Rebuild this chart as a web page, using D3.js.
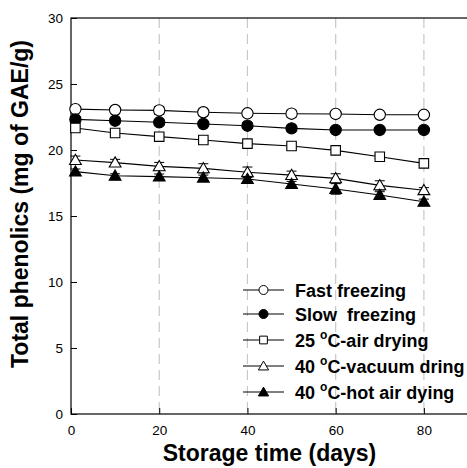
<!DOCTYPE html>
<html><head><meta charset="utf-8">
<script src="https://cdn.jsdelivr.net/npm/d3@7"></script>
<style>body{margin:0;background:#fff}svg{display:block}text{font-family:"Liberation Sans",Arial,sans-serif;white-space:pre}</style>
</head><body>
<svg id="c" width="467" height="468"></svg>
<script>
const days = [1, 10, 20, 30, 40, 50, 60, 70, 80];
const seriesNames = ["Fast freezing", "Slow  freezing", "25 °C-air drying", "40 °C-vacuum dring", "40 °C-hot air dying"];
const fastFreezing = [23.1, 23.03, 23.0, 22.86, 22.78, 22.75, 22.73, 22.67, 22.67];
const slowFreezing = [22.32, 22.22, 22.1, 21.97, 21.84, 21.64, 21.52, 21.52, 21.52];
const airDrying25 = [21.67, 21.29, 21.01, 20.76, 20.48, 20.30, 19.97, 19.49, 18.99];
const vacuumDrying40 = [19.24, 19.04, 18.76, 18.61, 18.31, 18.10, 17.85, 17.32, 16.95];
const hotAirDrying40 = [18.36, 18.05, 17.98, 17.90, 17.80, 17.42, 17.05, 16.59, 16.08];
const errFast = [0.2, 0.25, 0.3, 0.15, 0.15, 0.25, 0.15, 0.15, 0.15];
const errSlow = [0.2, 0.2, 0.2, 0.2, 0.2, 0.2, 0.2, 0.2, 0.2];
const errAir25 = [0.15, 0.15, 0.15, 0.15, 0.15, 0.15, 0.15, 0.15, 0.15];
const errVac40 = [0.3, 0.25, 0.3, 0.35, 0.4, 0.3, 0.35, 0.35, 0.2];
const errHot40 = [0.2, 0.15, 0.2, 0.2, 0.2, 0.2, 0.4, 0.25, 0.2];
const xTicks = [0, 20, 40, 60, 80];
const yTicks = [0, 5, 10, 15, 20, 25, 30];

const data = [fastFreezing, slowFreezing, airDrying25, vacuumDrying40, hotAirDrying40];
const errs = [errFast, errSlow, errAir25, errVac40, errHot40];
const shapes = [d3.symbolCircle, d3.symbolCircle, d3.symbolSquare, d3.symbolTriangle, d3.symbolTriangle];
const fills = ["#fff", "#000", "#fff", "#fff", "#000"];

const svg = d3.select("#c");
const m = {l: 71, t: 18, w: 397, h: 396};
const x = d3.scaleLinear().domain([0, 90]).range([m.l, m.l + m.w]);
const y = d3.scaleLinear().domain([0, 30]).range([m.t + m.h, m.t]);

// grid
svg.append("g").selectAll("line").data(xTicks.filter(d => d > 0)).join("line")
  .attr("x1", d => x(d)).attr("x2", d => x(d)).attr("y1", m.t).attr("y2", m.t + m.h)
  .attr("stroke", "#c8c8c8").attr("stroke-width", 1.2).attr("stroke-dasharray", "10,6");

// frame
svg.append("rect").attr("x", m.l).attr("y", m.t).attr("width", m.w).attr("height", m.h)
  .attr("fill", "none").attr("stroke", "#000").attr("stroke-width", 1.2);

const xAxis = svg.append("g").attr("transform", `translate(0,${m.t + m.h})`)
  .call(d3.axisBottom(x).tickValues(xTicks).tickSizeInner(-6).tickSizeOuter(0).tickPadding(11));
const yAxis = svg.append("g").attr("transform", `translate(${m.l},0)`)
  .call(d3.axisLeft(y).tickValues(yTicks).tickSizeInner(-6).tickSizeOuter(0).tickPadding(8));
[xAxis, yAxis].forEach(a => {
  a.select(".domain").remove();
  a.selectAll("line").attr("stroke", "#000");
  a.selectAll("text").attr("font-size", 13.5).attr("fill", "#000").style("font-family", '"Liberation Sans",Arial,sans-serif');
});

const sym = d3.symbol();
data.forEach((vals, i) => {
  const g = svg.append("g");
  const pts = days.map((d, j) => ({x: d, y: vals[j], e: errs[i][j]}));
  g.append("path").attr("d", d3.line().x(d => x(d.x)).y(d => y(d.y))(pts))
    .attr("fill", "none").attr("stroke", "#000").attr("stroke-width", 1.1);
  const eb = g.selectAll(".eb").data(pts).join("g");
  eb.append("line").attr("x1", d => x(d.x)).attr("x2", d => x(d.x))
    .attr("y1", d => y(d.y - d.e)).attr("y2", d => y(d.y + d.e)).attr("stroke", "#000");
  [-1, 1].forEach(s => eb.append("line").attr("x1", d => x(d.x) - 5).attr("x2", d => x(d.x) + 5)
    .attr("y1", d => y(d.y + s * d.e)).attr("y2", d => y(d.y + s * d.e)).attr("stroke", "#000"));
  const size = shapes[i] === d3.symbolTriangle ? 60 : (shapes[i] === d3.symbolSquare ? 90 : 100);
  g.selectAll(".pt").data(pts).join("path")
    .attr("transform", d => `translate(${x(d.x)},${y(d.y) + (shapes[i] === d3.symbolTriangle ? 1 : 0)})`)
    .attr("d", sym.type(shapes[i]).size(size)())
    .attr("fill", fills[i]).attr("stroke", "#000").attr("stroke-width", 1.1);
});

// legend
const legY = [290, 314, 340, 366, 392];
seriesNames.forEach((name, i) => {
  const g = svg.append("g").attr("transform", `translate(0,${legY[i]})`);
  g.append("line").attr("x1", 243).attr("x2", 284).attr("y1", 0).attr("y2", 0).attr("stroke", "#000");
  const size = shapes[i] === d3.symbolTriangle ? 45 : (shapes[i] === d3.symbolSquare ? 60 : 64);
  g.append("path").attr("transform", `translate(263.5,${shapes[i] === d3.symbolTriangle ? 1 : 0})`)
    .attr("d", sym.type(shapes[i]).size(size)()).attr("fill", fills[i]).attr("stroke", "#000");
  const t = g.append("text").attr("x", 295).attr("y", 6.5).attr("font-size", 18).attr("font-weight", "bold")
    .attr("xml:space", "preserve");
  const m2 = name.match(/^(\d+) °(.*)$/);
  if (m2) {
    t.append("tspan").text(m2[1] + " ");
    t.append("tspan").text("o").attr("font-size", 12).attr("dy", -8);
    t.append("tspan").text(m2[2]).attr("dy", 8);
  } else t.text(name);
});

// axis titles
svg.append("text").attr("x", x(45)).attr("y", 461).attr("text-anchor", "middle")
  .attr("font-size", 23).attr("font-weight", "bold").text("Storage time (days)");
svg.append("text").attr("transform", `translate(28,204) rotate(-90)`).attr("text-anchor", "middle")
  .attr("font-size", 23).attr("font-weight", "bold").text("Total phenolics (mg of GAE/g)");
</script>
</body></html>
